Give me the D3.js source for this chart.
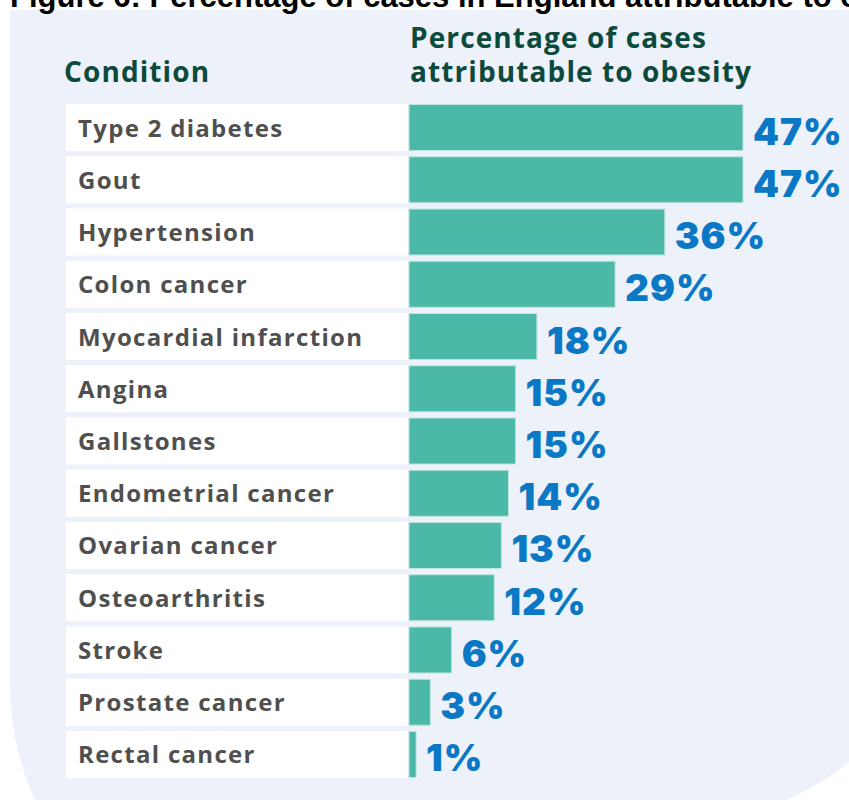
<!DOCTYPE html>
<html>
  <head>
    <meta charset="utf-8">
    <title>Percentage of cases attributable to obesity</title>
    <style>
      body { margin: 0; background: #fff; }
      svg { display: block; }
      text.title { font: bold 31px "Liberation Sans", Arial, sans-serif; }
      text.head { font: bold 28px "Open Sans", sans-serif; fill: #0c4a3c; letter-spacing: 1.1px; }
      text.cond { font: bold 24px "Open Sans", sans-serif; fill: #4f4f4f; letter-spacing: 1.3px; }
      text.pct { font: 900 37px Inter, sans-serif; fill: #0a78c4; letter-spacing: 1px; }
    </style>
  </head>
  <body>
    <svg id="chart" width="849" height="800"></svg>

    <script src="https://cdnjs.cloudflare.com/ajax/libs/d3/7.8.5/d3.min.js"></script>
    <script>
      var conditions = ["Type 2 diabetes", "Gout", "Hypertension", "Colon cancer",
        "Myocardial infarction", "Angina", "Gallstones", "Endometrial cancer",
        "Ovarian cancer", "Osteoarthritis", "Stroke", "Prostate cancer", "Rectal cancer"];
      var percents = [47, 47, 36, 29, 18, 15, 15, 14, 13, 12, 6, 3, 1];
      var headings = ["Condition", "Percentage of cases", "attributable to obesity"];

      var svg = d3.select("#chart");

      // light blue panel behind the table, rounded at the bottom
      svg.append("path")
        .attr("d", "M10,10 H849 V762 C822,784 792,798 760,812 L42,812 C26,785 12,745 10,690 Z")
        .attr("fill", "#edf1fa");

      // figure title, its top is cut off in the original
      svg.append("text")
        .classed("title", true)
        .attr("x", 10)
        .attr("y", 7)
        .text("Figure 6: Percentage of cases in England attributable to obesity");

      var y = d3.scaleBand()
        .domain(conditions)
        .range([104, 778])
        .paddingInner(0.1)
        .paddingOuter(0);

      var x = d3.scaleLinear()
        .domain([0, 47])
        .range([409, 743]);

      // headers
      svg.append("text").classed("head", true).attr("x", 64).attr("y", 82).text(headings[0]);
      svg.append("text").classed("head", true).attr("x", 410).attr("y", 48).text(headings[1]);
      svg.append("text").classed("head", true).attr("x", 410).attr("y", 82).text(headings[2]);

      var rows = svg.selectAll("g.row")
        .data(conditions)
        .enter()
        .append("g")
        .classed("row", true);

      // white label boxes
      rows.append("rect")
        .attr("x", 66)
        .attr("y", function(d) { return y(d); })
        .attr("width", x(0) - 1 - 66)
        .attr("height", y.bandwidth())
        .attr("fill", "#fff");

      rows.append("text")
        .classed("cond", true)
        .attr("x", 78)
        .attr("y", function(d) { return y(d) + y.bandwidth() / 2 + 9; })
        .text(function(d) { return d; });

      // bars
      rows.append("rect")
        .attr("x", x(0))
        .attr("y", function(d) { return y(d) + 0.5; })
        .attr("width", function(d, i) { return x(percents[i]) - x(0); })
        .attr("height", y.bandwidth() - 1)
        .attr("fill", "#4cb9a8")
        .attr("stroke", "#bfe5dc")
        .attr("stroke-width", 1);

      rows.append("text")
        .classed("pct", true)
        .attr("x", function(d, i) { return x(percents[i]) + 10; })
        .attr("y", function(d) { return y(d) + y.bandwidth() / 2 + 17; })
        .text(function(d, i) { return percents[i] + "%"; });
    </script>
  </body>
</html>
